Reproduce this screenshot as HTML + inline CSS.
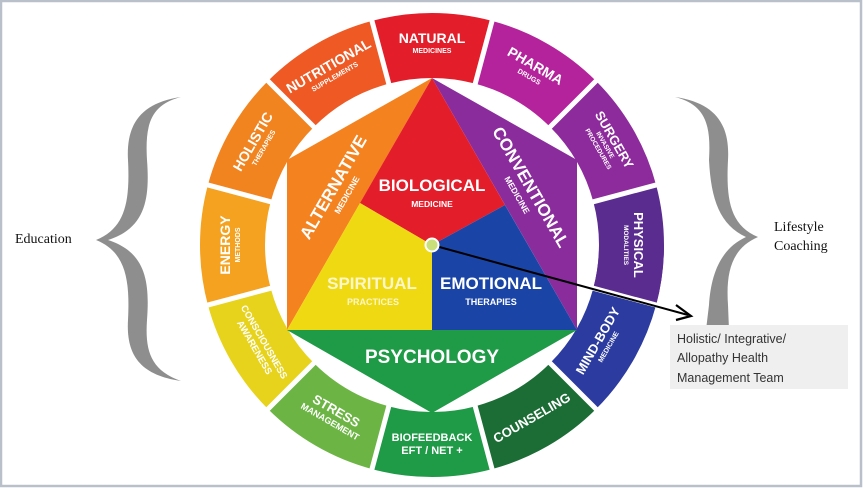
<!DOCTYPE html>
<html><head><meta charset="utf-8"><style>
html,body{margin:0;padding:0;background:#fff}
svg{display:block}
.m{font-family:"Liberation Sans",sans-serif;font-weight:bold;fill:#fff;text-anchor:middle}
.s{font-family:"Liberation Serif",serif;font-size:14px;fill:#111}
</style></head><body>
<svg width="863" height="488" viewBox="0 0 863 488" xmlns="http://www.w3.org/2000/svg">
<rect x="1" y="1" width="860" height="485" fill="#fff" stroke="#b9c0ca" stroke-width="2.5"/>
<!-- ring -->
<g fill="none" stroke-width="65">
<circle cx="432" cy="245" r="199.5" pathLength="360" stroke="#e31d2a" stroke-dasharray="30 330" stroke-dashoffset="-255"/>
<circle cx="432" cy="245" r="199.5" pathLength="360" stroke="#b4239b" stroke-dasharray="30 330" stroke-dashoffset="-285"/>
<circle cx="432" cy="245" r="199.5" pathLength="360" stroke="#8d2b9c" stroke-dasharray="30 330" stroke-dashoffset="-315"/>
<circle cx="432" cy="245" r="199.5" pathLength="360" stroke="#5a2c8f" stroke-dasharray="30 330" stroke-dashoffset="-345"/>
<circle cx="432" cy="245" r="199.5" pathLength="360" stroke="#5a2c8f" stroke-dasharray="15 345" stroke-dashoffset="0"/>
<circle cx="432" cy="245" r="199.5" pathLength="360" stroke="#2b3b9f" stroke-dasharray="30 330" stroke-dashoffset="-15"/>
<circle cx="432" cy="245" r="199.5" pathLength="360" stroke="#1c6d35" stroke-dasharray="30 330" stroke-dashoffset="-45"/>
<circle cx="432" cy="245" r="199.5" pathLength="360" stroke="#1f9a47" stroke-dasharray="30 330" stroke-dashoffset="-75"/>
<circle cx="432" cy="245" r="199.5" pathLength="360" stroke="#6cb544" stroke-dasharray="30 330" stroke-dashoffset="-105"/>
<circle cx="432" cy="245" r="199.5" pathLength="360" stroke="#e8d31c" stroke-dasharray="30 330" stroke-dashoffset="-135"/>
<circle cx="432" cy="245" r="199.5" pathLength="360" stroke="#f4a21f" stroke-dasharray="30 330" stroke-dashoffset="-165"/>
<circle cx="432" cy="245" r="199.5" pathLength="360" stroke="#f2841f" stroke-dasharray="30 330" stroke-dashoffset="-195"/>
<circle cx="432" cy="245" r="199.5" pathLength="360" stroke="#ee5924" stroke-dasharray="30 330" stroke-dashoffset="-225"/>
</g>
<g stroke="#fff" stroke-width="5">
<line x1="432" y1="8" x2="432" y2="82" transform="rotate(15 432 245)"/>
<line x1="432" y1="8" x2="432" y2="82" transform="rotate(45 432 245)"/>
<line x1="432" y1="8" x2="432" y2="82" transform="rotate(75 432 245)"/>
<line x1="432" y1="8" x2="432" y2="82" transform="rotate(105 432 245)"/>
<line x1="432" y1="8" x2="432" y2="82" transform="rotate(135 432 245)"/>
<line x1="432" y1="8" x2="432" y2="82" transform="rotate(165 432 245)"/>
<line x1="432" y1="8" x2="432" y2="82" transform="rotate(195 432 245)"/>
<line x1="432" y1="8" x2="432" y2="82" transform="rotate(225 432 245)"/>
<line x1="432" y1="8" x2="432" y2="82" transform="rotate(255 432 245)"/>
<line x1="432" y1="8" x2="432" y2="82" transform="rotate(285 432 245)"/>
<line x1="432" y1="8" x2="432" y2="82" transform="rotate(315 432 245)"/>
<line x1="432" y1="8" x2="432" y2="82" transform="rotate(345 432 245)"/>
</g>
<!-- ring labels -->
<g class="m">
<g><text x="432" y="43" font-size="14">NATURAL</text><text x="432" y="53" font-size="7">MEDICINES</text></g>
<g transform="rotate(30 432 245)"><text x="432" y="43" font-size="14">PHARMA</text><text x="432" y="53" font-size="7">DRUGS</text></g>
<g transform="rotate(60 432 245)"><text x="432" y="39" font-size="13">SURGERY</text><text x="432" y="47" font-size="6.5">INVASIVE</text><text x="432" y="55" font-size="6.5">PROCEDURES</text></g>
<g transform="rotate(90 432 245)"><text x="432" y="43" font-size="13">PHYSICAL</text><text x="432" y="53" font-size="6.5">MODALITIES</text></g>
<g transform="rotate(120 432 245) rotate(180 432 46)"><text x="432" y="43" font-size="13">MIND-BODY</text><text x="432" y="53" font-size="7">MEDICINE</text></g>
<g transform="rotate(150 432 245) rotate(180 432 46)"><text x="432" y="51" font-size="13">COUNSELING</text></g>
<g transform="rotate(180 432 245) rotate(180 432 46)"><text x="432" y="43" font-size="11">BIOFEEDBACK</text><text x="432" y="56" font-size="11">EFT / NET +</text></g>
<g transform="rotate(210 432 245) rotate(180 432 46)"><text x="432" y="43" font-size="13">STRESS</text><text x="432" y="54" font-size="9">MANAGEMENT</text></g>
<g transform="rotate(240 432 245) rotate(180 432 46)"><text x="432" y="44" font-size="9.5">CONSCIOUSNESS</text><text x="432" y="55" font-size="9.5">AWARENESS</text></g>
<g transform="rotate(270 432 245)"><text x="432" y="43" font-size="14">ENERGY</text><text x="432" y="53" font-size="7">METHODS</text></g>
<g transform="rotate(300 432 245)"><text x="432" y="43" font-size="14">HOLISTIC</text><text x="432" y="53" font-size="7">THERAPIES</text></g>
<g transform="rotate(330 432 245)"><text x="432" y="43" font-size="14">NUTRITIONAL</text><text x="432" y="53" font-size="7">SUPPLEMENTS</text></g>
</g>
<!-- hexagon -->
<polygon points="287,160 432,78 287,330" fill="#f4821f"/>
<polygon points="577,160 432,78 577,330" fill="#8a2c9c"/>
<polygon points="287,330 577,330 432,413" fill="#1f9a47"/>
<polygon points="432,78 505,205 432,245 360,203" fill="#e31d2a"/>
<polygon points="360,203 432,245 432,330 287,330" fill="#eed913"/>
<polygon points="505,205 432,245 432,330 577,330" fill="#1a45a6"/>
<g class="m">
<text x="432" y="191" font-size="17">BIOLOGICAL</text>
<text x="432" y="207" font-size="8.5">MEDICINE</text>
<text x="372" y="289" font-size="17" fill="#fdf6c8">SPIRITUAL</text>
<text x="373" y="305" font-size="9" fill="#fdf6c8">PRACTICES</text>
<text x="491" y="289" font-size="17">EMOTIONAL</text>
<text x="491" y="305" font-size="9">THERAPIES</text>
<text x="432" y="363" font-size="19">PSYCHOLOGY</text>
<g transform="rotate(-60 333 187)"><text x="333" y="193" font-size="17">ALTERNATIVE</text><text x="333" y="206" font-size="8.5">MEDICINE</text></g>
<g transform="rotate(60 531 187)"><text x="531" y="193" font-size="17">CONVENTIONAL</text><text x="531" y="206" font-size="8.5">MEDICINE</text></g>
</g>
<!-- arrow -->
<line x1="432" y1="245" x2="688" y2="315" stroke="#000" stroke-width="2"/>
<polyline points="676,305 691,316 676,320" fill="none" stroke="#000" stroke-width="2.2"/>
<circle cx="432" cy="245" r="6.5" fill="#c9e07a" stroke="#fff" stroke-width="2"/>
<!-- braces -->
<path d="M181,97 C140,103 126,125 128,160 C130,200 126,228 96,240 C126,252 130,280 128,320 C126,355 140,375 181,381 C150,370 145,350 147,320 C150,280 145,252 108,240 C145,228 150,200 147,160 C145,125 150,105 181,97 Z" fill="#8e8e8e"/>
<path d="M675,97 C716,103 730,125 728,160 C726,200 730,225 758,237 C730,249 726,275 728,305 L729,330 L706,330 L709,305 C711,275 720,249 746,237 C720,225 711,200 709,160 C711,125 706,105 675,97 Z" fill="#8e8e8e"/>
<text class="s" x="15" y="243">Education</text>
<text class="s" x="774" y="231">Lifestyle</text>
<text class="s" x="774" y="250">Coaching</text>
<rect x="670" y="325" width="178" height="64" fill="#efefef"/>
<g font-family="'Liberation Sans',sans-serif" font-size="12.5" fill="#333">
<text x="677" y="343">Holistic/ Integrative/</text>
<text x="677" y="362">Allopathy Health</text>
<text x="677" y="382">Management Team</text>
</g>
</svg>
</body></html>
